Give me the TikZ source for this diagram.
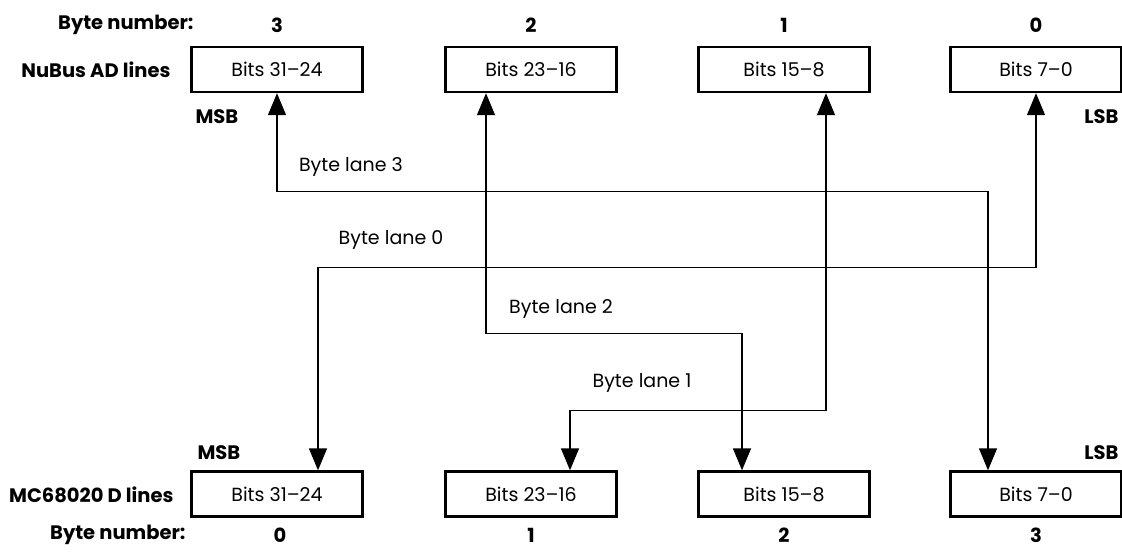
\documentclass[tikz,border=0pt]{standalone}
\usepackage{fontspec}
\setmainfont{Poppins}
\usetikzlibrary{arrows.meta}

\begin{document}
\begin{tikzpicture}[x=1pt,y=-1pt,font=\fontsize{19}{23}\selectfont,
    bitbox/.style={draw,line width=2.4pt,minimum width=171pt,minimum height=45pt,inner sep=0pt},
    tag/.style={font=\fontsize{19.5}{23}\selectfont\bfseries},
    lane/.style={line width=1.4pt,{Triangle[length=22pt,width=18pt]}-{Triangle[length=22pt,width=18pt]}}]
      \useasboundingbox (0,0) rectangle (1122,555);
      \node[tag,anchor=east] (numtop) at (197,25) {Byte number:};
      \node[tag,anchor=east] (nubus) at (174,70) {NuBus AD lines};
      \node[bitbox] (t1) at (277,69.5) {Bits 31--24};
      \node[bitbox] (t2) at (531,69.5) {Bits 23--16};
      \node[bitbox] (t3) at (784,69.5) {Bits 15--8};
      \node[bitbox] (t4) at (1036,69.5) {Bits 7--0};
      \node[tag] (nt1) at (277,25) {3};
      \node[tag] (nt2) at (531,25) {2};
      \node[tag] (nt3) at (784,25) {1};
      \node[tag] (nt4) at (1036,25) {0};
      \node[tag,anchor=west] (msbtop) at (192,117) {MSB};
      \node[tag,anchor=east] (lsbtop) at (1122,117) {LSB};
      \node[tag,anchor=east] (numbot) at (189,535) {Byte number:};
      \node[tag,anchor=east] (mcd) at (177,495) {MC68020 D lines};
      \node[bitbox] (b1) at (277,494) {Bits 31--24};
      \node[bitbox] (b2) at (531,494) {Bits 23--16};
      \node[bitbox] (b3) at (784,494) {Bits 15--8};
      \node[bitbox] (b4) at (1036,494) {Bits 7--0};
      \node[tag] (nb1) at (280,535) {0};
      \node[tag] (nb2) at (531,535) {1};
      \node[tag] (nb3) at (784,535) {2};
      \node[tag] (nb4) at (1036,535) {3};
      \node[tag,anchor=west] (msbbot) at (194,453) {MSB};
      \node[tag,anchor=east] (lsbbot) at (1122,453) {LSB};
      \draw[lane] (t1.south) -- ++(0,98) -| ([xshift=-48pt]b4.north);
      \draw[lane] (t4.south) -- ++(0,174) -| ([xshift=41pt]b1.north);
      \draw[lane] ([xshift=-45pt]t2.south) -- ++(0,240) -| ([xshift=-42pt]b3.north);
      \draw[lane] ([xshift=42pt]t3.south) -- ++(0,317) -| ([xshift=39pt]b2.north);
      \node (l3) at (351,167) {Byte lane 3};
      \node (l0) at (391,240) {Byte lane 0};
      \node (l2) at (561,309) {Byte lane 2};
      \node (l1) at (642,383) {Byte lane 1};
    \end{tikzpicture}
\end{document}
